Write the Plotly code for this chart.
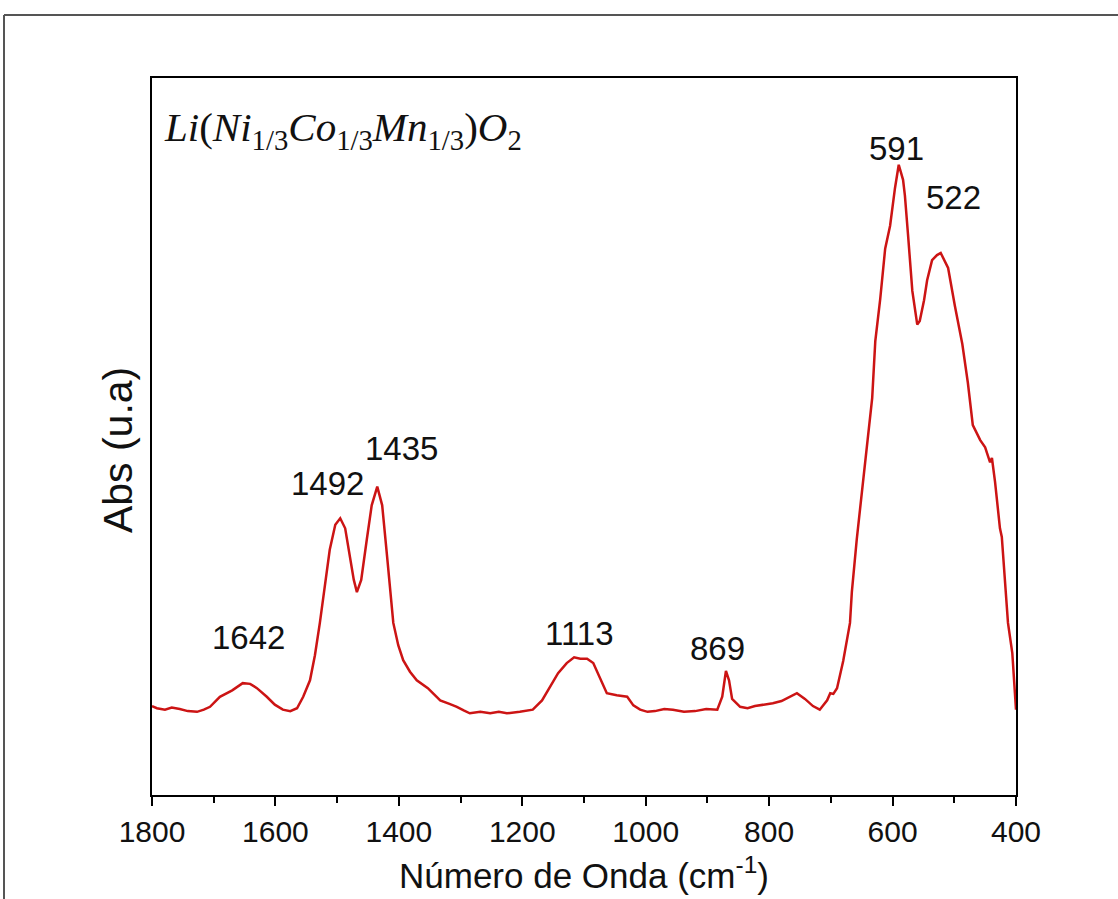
import plotly.graph_objects as go

# Spectrum trace (wavenumber cm^-1, absorbance a.u.)
wavenumber = [1800, 1792, 1779, 1768, 1755, 1742, 1727, 1716, 1706, 1690, 1670, 1653, 1641, 1630,
              1614, 1601, 1588, 1576, 1565, 1555, 1544, 1536, 1528, 1520, 1512, 1503, 1495, 1487,
              1479, 1473, 1468, 1461, 1452, 1444, 1435, 1427, 1419, 1409, 1401, 1393, 1382, 1371,
              1353, 1333, 1318, 1306, 1295, 1285, 1268, 1252, 1238, 1225, 1204, 1183, 1168, 1155,
              1142, 1128, 1116, 1106, 1095, 1085, 1074, 1063, 1047, 1030, 1020, 1009, 997, 985,
              970, 956, 938, 920, 902, 884, 876, 870, 865, 860, 847, 835, 823, 808, 794, 780, 766,
              755, 742, 729, 718, 706, 701, 696, 690, 680, 669, 666, 658, 650, 641, 633, 628, 620,
              612, 604, 596, 590, 583, 580, 575, 568, 560, 556, 549, 544, 536, 528, 522, 510, 499,
              487, 478, 470, 458, 450, 442, 439, 434, 426, 423, 418, 413, 406, 400]
absorbance = [0.124, 0.121, 0.119, 0.122, 0.120, 0.117, 0.116, 0.119, 0.123, 0.137, 0.146, 0.156,
              0.155, 0.149, 0.137, 0.126, 0.119, 0.117, 0.121, 0.137, 0.160, 0.195, 0.240, 0.293,
              0.342, 0.377, 0.386, 0.372, 0.332, 0.300, 0.283, 0.300, 0.356, 0.404, 0.430, 0.404,
              0.332, 0.240, 0.209, 0.188, 0.172, 0.160, 0.149, 0.132, 0.127, 0.123, 0.118, 0.114,
              0.116, 0.114, 0.116, 0.114, 0.116, 0.119, 0.132, 0.151, 0.170, 0.184, 0.192, 0.190,
              0.190, 0.184, 0.163, 0.142, 0.139, 0.137, 0.125, 0.119, 0.116, 0.117, 0.120, 0.119,
              0.116, 0.117, 0.120, 0.119, 0.137, 0.173, 0.160, 0.134, 0.123, 0.121, 0.124, 0.126,
              0.128, 0.131, 0.137, 0.142, 0.134, 0.124, 0.119, 0.132, 0.142, 0.141, 0.149, 0.187,
              0.240, 0.283, 0.357, 0.421, 0.490, 0.554, 0.633, 0.692, 0.762, 0.794, 0.847, 0.879,
              0.858, 0.836, 0.782, 0.703, 0.656, 0.661, 0.690, 0.718, 0.746, 0.753, 0.756, 0.735,
              0.682, 0.629, 0.575, 0.516, 0.495, 0.485, 0.464, 0.470, 0.437, 0.372, 0.360, 0.304,
              0.240, 0.198, 0.119]

# Peak labels
peak_labels = ["1642", "1492", "1435", "1113", "869", "591", "522"]
label_x = [1644, 1516, 1395, 1108, 883, 594, 502]
label_y = [0.219, 0.435, 0.483, 0.225, 0.205, 0.902, 0.834]

x_ticks = [1800, 1600, 1400, 1200, 1000, 800, 600, 400]

SANS = "Liberation Sans, Arial, sans-serif"
SERIF = "Liberation Serif, Times New Roman, serif"
INK = "#111111"

fig = go.Figure()
fig.add_trace(go.Scatter(x=wavenumber, y=absorbance, mode="lines",
                         line=dict(color="#CC1414", width=2.5), showlegend=False))

for t, lx, ly in zip(peak_labels, label_x, label_y):
    fig.add_annotation(x=lx, y=ly, xref="x", yref="y", text=t, showarrow=False,
                       font=dict(family=SANS, size=33, color=INK),
                       xanchor="center", yanchor="middle")

# formula
fig.add_annotation(x=0.012, y=0.927, xref="paper", yref="paper", xanchor="left", yanchor="middle",
                   showarrow=False,
                   text="<i>Li</i>(<i>Ni</i><sub>1/3</sub><i>Co</i><sub>1/3</sub><i>Mn</i><sub>1/3</sub>)<i>O</i><sub>2</sub>",
                   font=dict(family=SERIF, size=41, color=INK))

# axis titles
fig.add_annotation(x=0.5, y=-0.109, xref="paper", yref="paper", xanchor="center", yanchor="middle",
                   showarrow=False, text="Número de Onda (cm<sup>-1</sup>)",
                   font=dict(family=SANS, size=35, color=INK))
fig.add_annotation(x=-0.0394, y=0.481, xref="paper", yref="paper", xanchor="center", yanchor="middle",
                   showarrow=False, text="Abs (u.a)", textangle=-90,
                   font=dict(family=SANS, size=41, color=INK))

# outer frame of the picture
fig.add_shape(type="line", xref="paper", yref="paper", x0=(4 - 152) / 864, x1=(1120 - 152) / 864,
              y0=(795 - 15) / 717, y1=(795 - 15) / 717, line=dict(color="#555555", width=2))
fig.add_shape(type="line", xref="paper", yref="paper", x0=(4 - 152) / 864, x1=(4 - 152) / 864,
              y0=(795 - 15) / 717, y1=(795 - 902) / 717, line=dict(color="#555555", width=2))

fig.update_xaxes(range=[1800, 400], tickvals=x_ticks, ticks="outside", ticklen=9, tickwidth=2,
                 tickcolor="black", showline=True, linecolor="black", linewidth=2, mirror=True,
                 showgrid=False, zeroline=False,
                 tickfont=dict(family=SANS, size=30, color=INK),
                 minor=dict(dtick=100, ticks="outside", ticklen=6, tickwidth=2, tickcolor="black"))
fig.update_yaxes(range=[0, 1], showticklabels=False, ticks="", showline=True, linecolor="black",
                 linewidth=2, mirror=True, showgrid=False, zeroline=False)

fig.update_layout(width=1118, height=899, margin=dict(l=152, r=102, t=78, b=104),
                  plot_bgcolor="white", paper_bgcolor="white")

fig.write_html("out.html")
